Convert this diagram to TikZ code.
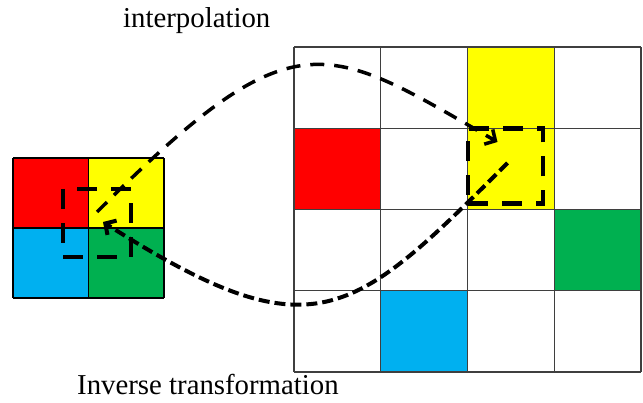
\documentclass[tikz,border=0pt]{standalone}
\usepackage{fontspec}
\setmainfont{Liberation Serif}
\usepackage{xcolor}
\usetikzlibrary{arrows.meta,calc}

\definecolor{cellred}{HTML}{FF0000}
\definecolor{cellyellow}{HTML}{FFFF00}
\definecolor{cellgreen}{HTML}{00B050}
\definecolor{cellblue}{HTML}{00B0F0}
\definecolor{gridgray}{HTML}{3F3F3F}

\tikzset{
  gridline/.style={gridgray, line width=1.4pt},
  window/.style={draw, line width=4.5pt, dash pattern=on 20pt off 14pt, inner sep=0pt},
  mapcurve/.style={line width=3.5pt, -{Straight Barb[length=8pt,width=17pt]}},
  captext/.style={font=\fontsize{28.8}{34}\selectfont, inner sep=0pt}
}

\begin{document}
\begin{tikzpicture}[x=1pt, y=1pt]
\useasboundingbox (0,0) rectangle (643,403);

% Source image (2x2)
\foreach \c/\r/\col in {0/0/cellred, 1/0/cellyellow, 0/1/cellblue, 1/1/cellgreen} {
    \fill[\col] ({13+\c*75.5}, {245-\r*70}) rectangle ++(75.5,-70);
}
\foreach \i in {0,1,2} {
    \draw[black, line width=1.2pt] ({13+\i*75.5},105) -- ({13+\i*75.5},245);
    \draw[black, line width=1.2pt] (13,{245-\i*70}) -- (164,{245-\i*70});
}

% Target image (4x4)
\foreach \c/\r/\col in {2/0/cellyellow, 2/1/cellyellow, 0/1/cellred, 3/2/cellgreen, 1/3/cellblue} {
    \fill[\col] ({294+\c*86.75}, {356-\r*81.25}) rectangle ++(86.75,-81.25);
}
\foreach \i in {0,1,2,3,4} {
    \draw[gridline] ({294+\i*86.75},31) -- ({294+\i*86.75},356);
    \draw[gridline] (294,{356-\i*81.25}) -- (641,{356-\i*81.25});
}

% Sampling windows
\node[window, minimum size=68pt] (srcwin) at (97,180) {};
\node[window, minimum size=75pt] (dstwin) at (505.5,237) {};

% Mappings
\draw[mapcurve, dash pattern=on 14pt off 10pt] ($(srcwin.center)+(0,11)$) to[out=45, in=150, out distance=280pt, in distance=200pt] ($(dstwin.center)+(-8,24)$);
\draw[mapcurve, line width=4pt, dash pattern=on 11pt off 5pt] ($(dstwin.center)+(2,3)$) to[out=225, in=-32.5, out distance=220pt, in distance=250pt] ($(srcwin.center)+(6,1)$);

\node[captext, anchor=base west] (interp) at (123,375) {interpolation};
\node[captext, anchor=base west] (inverse) at (77,8) {Inverse transformation};
\end{tikzpicture}
\end{document}
